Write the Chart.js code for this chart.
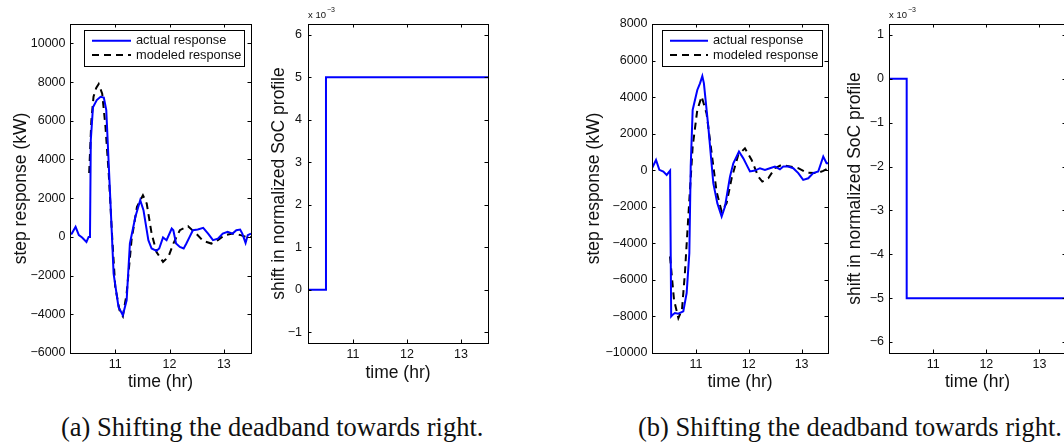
<!DOCTYPE html>
<html>
<head>
<meta charset="utf-8">
<title>Step response and SoC shift</title>
<script src="https://cdn.jsdelivr.net/npm/chart.js@4/dist/chart.umd.min.js"></script>
<style>
  html, body { margin: 0; padding: 0; background: #fff; }
  body { position: relative; width: 1064px; height: 444px; overflow: hidden; }
  canvas { position: absolute; top: 0; }
  .cap {
    position: absolute; top: 414px; white-space: nowrap;
    font-family: 'Liberation Serif', 'Times New Roman', serif;
    font-size: 26.5px; line-height: 26.5px; color: #111;
  }
</style>
</head>
<body>
<canvas id="respA" width="262" height="400" style="left:0px"></canvas>
<canvas id="socA" width="240" height="400" style="left:262px"></canvas>
<canvas id="respB" width="280" height="400" style="left:560px"></canvas>
<canvas id="socB" width="240" height="400" style="left:830px"></canvas>
<div class="cap" style="left:61px">(a) Shifting the deadband towards right.</div>
<div class="cap" style="left:638px">(b) Shifting the deadband towards right.</div>

<script>
// time axis (hours)
const X_MIN = 10.167;
const X_MAX = 13.5;
const timeTicks = [11, 12, 13];

// (a) step response, kW
const timeActualA = [10.17, 10.2, 10.27, 10.33, 10.39, 10.47, 10.51, 10.535, 10.55, 10.59, 10.66, 10.73, 10.79, 10.835,
  10.91, 10.97, 11.06, 11.14, 11.21, 11.27, 11.37, 11.46, 11.52, 11.61, 11.67, 11.76, 11.81, 11.88, 11.945,
  12.04, 12.07, 12.12, 12.19, 12.26, 12.31, 12.37, 12.43, 12.52, 12.62, 12.71, 12.80, 12.89, 12.98, 13.07,
  13.16, 13.23, 13.30, 13.34, 13.40, 13.44, 13.5];
const actualA = [150, 170, 520, 90, -30, -260, 0, 0, 5000, 6700, 7070, 7240, 7200, 6550,
  1900, -1900, -3620, -4050, -3280, -340, 1030, 1900, 1380, -170, -600, -720, -600, -30, -170,
  430, 345, -345, -520, -600, -345, 0, 345, 380, 470, 170, -170, -90, 170, 260,
  170, 345, 380, 170, -310, 90, 170];
const timeModelA = [10.52, 10.56, 10.6, 10.65, 10.695, 10.76, 10.82, 10.88, 10.94, 11.0, 11.08, 11.14, 11.21,
  11.30, 11.40, 11.51, 11.58, 11.67, 11.76, 11.88, 11.98, 12.07, 12.19, 12.34, 12.49, 12.62, 12.77,
  12.89, 13.01, 13.16, 13.31, 13.44, 13.5];
const modelA = [3300, 6000, 7240, 7700, 7900, 7400, 5700, 3280, 170, -2590, -3800, -4100, -2930,
  -170, 1550, 2150, 1720, 170, -780, -1290, -1030, -345, 345, 550, 170, -210, -345,
  -170, 90, 170, 90, -30, 0];
const respTicksA = [-6000, -4000, -2000, 0, 2000, 4000, 6000, 8000, 10000];

// (b) step response, kW
const timeActualB = [10.167, 10.243, 10.306, 10.382, 10.445, 10.51, 10.53, 10.56, 10.60, 10.666, 10.76, 10.823,
  10.874, 10.90, 10.937, 11.025, 11.076, 11.12, 11.15, 11.233, 11.328, 11.404, 11.486, 11.549, 11.644,
  11.707, 11.77, 11.814, 11.896, 11.959, 12.022, 12.117, 12.211, 12.306, 12.40, 12.495, 12.59, 12.653,
  12.748, 12.842, 12.937, 13.03, 13.126, 13.22, 13.315, 13.41, 13.473, 13.5];
const actualB = [110, 560, 20, -70, -255, -20, -8000, -7900, -7810, -7850, -7720, -6720,
  -4540, 200, 3300, 4390, 4750, 5150, 4750, 2390, -710, -1800, -2530, -1990, -350,
  380, 750, 1020, 650, 290, -70, -20, 110, 20, 110, 200, 50, 200,
  200, 110, -160, -530, -440, -160, -70, 750, 380, 380];
const timeModelB = [10.508, 10.584, 10.666, 10.735, 10.79, 10.855, 10.937, 11.025, 11.107, 11.20, 11.297,
  11.39, 11.486, 11.58, 11.675, 11.80, 11.927, 12.054, 12.18, 12.255, 12.369, 12.495, 12.621, 12.78,
  12.937, 13.095, 13.284, 13.41, 13.5];
const modelB = [-4720, -7090, -8090, -7630, -5630, -2530, 1290, 3300, 4030, 3110, 930,
  -1170, -2260, -1800, -440, 840, 1200, 560, -350, -620, -440, 110, 290, 200,
  110, -130, -160, -40, 110];
const respTicksB = [-10000, -8000, -6000, -4000, -2000, 0, 2000, 4000, 6000, 8000];

// shift in normalized SoC profile
const socTimes = [10.167, 10.5, 10.5, 13.5];
const socShiftA = [0, 0, 0.005, 0.005];
const socShiftB = [0, 0, -0.005, -0.005];
const socTicksA = [-0.001, 0, 0.001, 0.002, 0.003, 0.004, 0.005, 0.006];
const socTicksB = [-0.006, -0.005, -0.004, -0.003, -0.002, -0.001, 0, 0.001];

Chart.defaults.font.family = "'Liberation Sans', Arial, Helvetica, sans-serif";
Chart.defaults.color = '#111';

const TEXT = '#111';
const TICK_LEN = 3.5;
const tickFont = { size: 12.5 };
const titleFont = { size: 17.5 };

const minus = s => s.replace('-', '\u2212');
const points = (xs, ys) => xs.map((x, i) => ({ x, y: ys[i] }));

// MATLAB-like box with inward ticks on all four sides
const axesBox = {
  id: 'axesBox',
  afterDatasetsDraw(chart) {
    const { ctx, chartArea: a, scales: { x, y } } = chart;
    ctx.save();
    ctx.strokeStyle = '#000';
    ctx.lineWidth = 1;
    ctx.beginPath();
    x.ticks.forEach(t => {
      const px = Math.round(x.getPixelForValue(t.value)) + 0.5;
      ctx.moveTo(px, a.bottom); ctx.lineTo(px, a.bottom - TICK_LEN);
      ctx.moveTo(px, a.top); ctx.lineTo(px, a.top + TICK_LEN);
    });
    y.ticks.forEach(t => {
      const py = Math.round(y.getPixelForValue(t.value)) + 0.5;
      ctx.moveTo(a.left, py); ctx.lineTo(a.left + TICK_LEN, py);
      ctx.moveTo(a.right, py); ctx.lineTo(a.right - TICK_LEN, py);
    });
    ctx.stroke();
    ctx.strokeRect(a.left + 0.5, a.top + 0.5, a.right - a.left, a.bottom - a.top);
    ctx.restore();
  }
};

// legend drawn inside the axes, MATLAB style
const boxLegend = {
  id: 'boxLegend',
  afterDraw(chart, args, opts) {
    if (!opts.box) return;
    const ctx = chart.ctx;
    const [x1, y1, x2, y2] = opts.box;
    ctx.save();
    ctx.fillStyle = '#fff';
    ctx.fillRect(x1, y1, x2 - x1, y2 - y1);
    ctx.strokeStyle = '#000';
    ctx.lineWidth = 1;
    ctx.strokeRect(x1 + 0.5, y1 + 0.5, x2 - x1, y2 - y1);
    chart.data.datasets.forEach((ds, i) => {
      const yy = opts.rows[i];
      ctx.strokeStyle = ds.borderColor;
      ctx.lineWidth = ds.borderWidth;
      ctx.setLineDash(ds.borderDash || []);
      ctx.beginPath();
      ctx.moveTo(opts.sample[0], yy);
      ctx.lineTo(opts.sample[1], yy);
      ctx.stroke();
      ctx.setLineDash([]);
      ctx.fillStyle = TEXT;
      ctx.font = "12.8px 'Liberation Sans', Arial, sans-serif";
      ctx.textBaseline = 'middle';
      ctx.fillText(ds.label, opts.textX, yy);
    });
    ctx.restore();
  }
};

// "x 10^-3" multiplier above the SoC axes
const axisExponent = {
  id: 'axisExponent',
  afterDraw(chart, args, opts) {
    if (!opts.text) return;
    const { ctx, chartArea: a } = chart;
    ctx.save();
    ctx.fillStyle = TEXT;
    ctx.textBaseline = 'alphabetic';
    ctx.font = "9.5px 'Liberation Sans', Arial, sans-serif";
    ctx.fillText(opts.text, a.left, 18);
    const w = ctx.measureText(opts.text).width;
    ctx.font = "7px 'Liberation Sans', Arial, sans-serif";
    ctx.fillText(opts.sup, a.left + w + 1, 12);
    ctx.restore();
  }
};

function makeChart(id, cfg) {
  const canvas = document.getElementById(id);
  return new Chart(canvas.getContext('2d'), {
    type: 'line',
    data: { datasets: cfg.datasets },
    plugins: [axesBox, boxLegend, axisExponent],
    options: {
      responsive: false,
      animation: false,
      layout: { padding: { left: 0, top: 24, right: cfg.padRight, bottom: 0 } },
      elements: { point: { radius: 0 }, line: { tension: 0 } },
      plugins: {
        legend: { display: false },
        tooltip: { enabled: false },
        boxLegend: cfg.legend || {},
        axisExponent: cfg.exponent || {}
      },
      scales: {
        x: {
          type: 'linear',
          min: X_MIN,
          max: X_MAX,
          afterBuildTicks: s => { s.ticks = timeTicks.map(v => ({ value: v })); },
          afterFit: s => { s.height = cfg.xHeight; },
          grid: { display: false, drawTicks: false },
          border: { display: false },
          ticks: { padding: cfg.xTickPad, font: tickFont, color: TEXT, maxRotation: 0, callback: v => String(v) },
          title: { display: true, text: 'time (hr)', font: titleFont, color: TEXT, padding: { top: 0, bottom: cfg.xTitlePad } }
        },
        y: {
          type: 'linear',
          min: cfg.yMin,
          max: cfg.yMax,
          afterBuildTicks: s => { s.ticks = cfg.yTicks.map(v => ({ value: v })); },
          afterFit: s => { s.width = cfg.yWidth; },
          grid: { display: false, drawTicks: false },
          border: { display: false },
          ticks: { padding: cfg.yTickPad, font: tickFont, color: TEXT, callback: cfg.yFormat },
          title: { display: true, text: cfg.yTitle, font: titleFont, color: TEXT, padding: { top: cfg.yTitlePad, bottom: 0 } }
        }
      }
    }
  });
}

const respDatasets = (ta, ya, tm, ym) => [
  { label: 'actual response', data: points(ta, ya), borderColor: '#0000ff', borderWidth: 2 },
  { label: 'modeled response', data: points(tm, ym), borderColor: '#000000', borderWidth: 2, borderDash: [7, 5] }
];
const socDataset = ys => [{ label: 'shift', data: points(socTimes, ys), borderColor: '#0000ff', borderWidth: 2 }];
const kwFormat = v => minus(String(v));
const socFormat = v => minus(String(Math.round(v * 1000)));

makeChart('respA', {
  datasets: respDatasets(timeActualA, actualA, timeModelA, modelA),
  yMin: -6000, yMax: 11000, yTicks: respTicksA, yFormat: kwFormat,
  yTitle: 'step response (kW)', yWidth: 70, yTickPad: 4.5, yTitlePad: 10.5,
  padRight: 11, xHeight: 47, xTickPad: 4, xTitlePad: 7.8,
  legend: { box: [84, 30, 244, 66], rows: [40.7, 55], sample: [92, 131], textX: 136 }
});

makeChart('socA', {
  datasets: socDataset(socShiftA),
  yMin: -0.00125, yMax: 0.00625, yTicks: socTicksA, yFormat: socFormat,
  yTitle: 'shift in normalized SoC profile', yWidth: 46, yTickPad: 6, yTitlePad: 6.2,
  padRight: 14, xHeight: 57, xTickPad: 4, xTitlePad: 16.8,
  exponent: { text: 'x 10', sup: '\u22123' }
});

makeChart('respB', {
  datasets: respDatasets(timeActualB, actualB, timeModelB, modelB),
  yMin: -10000, yMax: 8000, yTicks: respTicksB, yFormat: kwFormat,
  yTitle: 'step response (kW)', yWidth: 92, yTickPad: 4.5, yTitlePad: 23.5,
  padRight: 12, xHeight: 47, xTickPad: 4, xTitlePad: 7.8,
  legend: { box: [102, 30, 262, 66], rows: [40.7, 55], sample: [110, 148], textX: 153 }
});

makeChart('socB', {
  datasets: socDataset(socShiftB),
  yMin: -0.00625, yMax: 0.00125, yTicks: socTicksB, yFormat: socFormat,
  yTitle: 'shift in normalized SoC profile', yWidth: 59, yTickPad: 5, yTitlePad: 14.5,
  padRight: 4, xHeight: 47, xTickPad: 4, xTitlePad: 7.8,
  exponent: { text: 'x 10', sup: '\u22123' }
});
</script>
</body>
</html>
